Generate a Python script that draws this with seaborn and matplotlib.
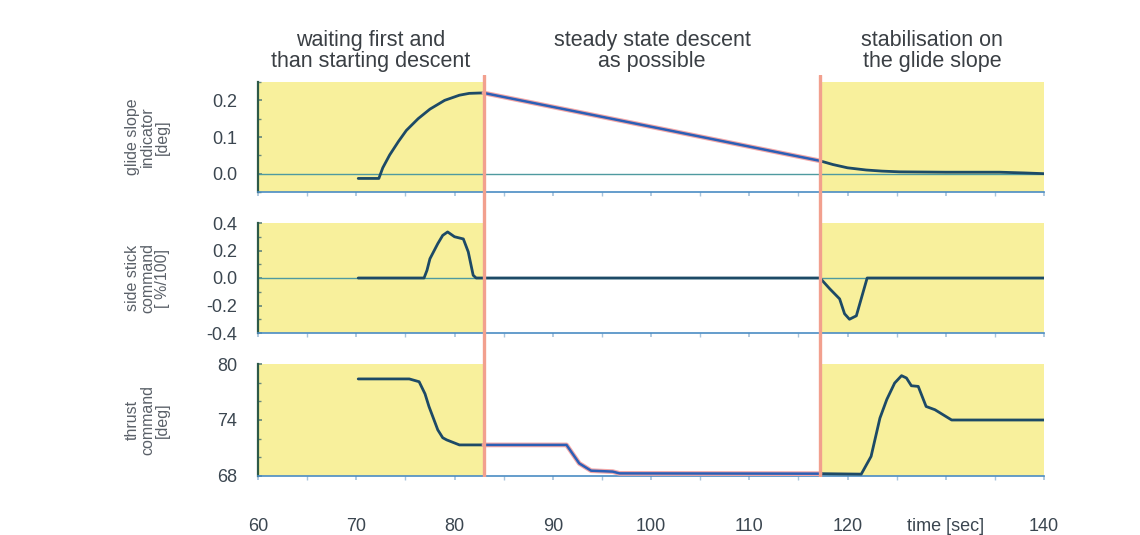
import numpy as np
import pandas as pd
import matplotlib
matplotlib.use("Agg")
import matplotlib.pyplot as plt
import seaborn as sns

# ---------------- data ----------------
t_glide = [70.2, 72.3, 72.7, 73.4, 74.3, 75.1, 76.3, 77.5, 79.0, 80.5, 81.5, 82.6, 83.0,
           117.2, 118.5, 120.0, 121.9, 123.5, 125.3, 130.0, 135.5, 138.0, 140.0]
glide = [-0.013, -0.013, 0.016, 0.051, 0.088, 0.118, 0.15, 0.176, 0.200, 0.214, 0.219, 0.22, 0.22,
         0.035, 0.025, 0.016, 0.010, 0.007, 0.005, 0.004, 0.004, 0.002, 0.0]

t_stick = [70.2, 76.9, 77.2, 77.5, 78.3, 78.8, 79.3, 80.0, 80.9, 81.4, 81.9, 82.2,
           117.2, 118.2, 119.2, 119.7, 120.2, 120.9, 121.4, 122.0, 140.0]
stick = [0, 0, 0.056, 0.14, 0.25, 0.31, 0.335, 0.30, 0.284, 0.19, 0.02, 0,
         0, -0.079, -0.152, -0.26, -0.30, -0.275, -0.15, 0, 0]

t_thrust = [70.2, 75.4, 76.4, 77.0, 77.4, 78.3, 78.8, 79.2, 80.5, 83.0, 91.4, 92.7, 93.9, 96.1, 96.8,
            117.2, 121.4, 122.4, 123.3, 124.0, 124.8, 125.5, 126.0, 126.5, 127.2, 128.0,
            128.9, 130.6, 140.0]
thrust = [78.4, 78.4, 78.1, 76.8, 75.45, 72.94, 72.1, 71.87, 71.33, 71.33, 71.33, 69.35, 68.57, 68.47, 68.28,
          68.25, 68.2, 70.1, 74.2, 76.2, 77.96, 78.75, 78.5, 77.67, 77.6, 75.45,
          75.1, 74.0, 74.0]

phase_bounds = [83.0, 117.2]
phase_titles = ["waiting first and\nthan starting descent",
                "steady state descent\nas possible",
                "stabilisation on\nthe glide slope"]
panel_labels = ["glide slope\nindicator\n[deg]", "side stick\ncommand\n[ %/100]",
                "thrust\ncommand\n[deg]"]
x_ticks = [60, 70, 80, 90, 100, 110, 120, 130, 140]
x_tick_labels = ["60", "70", "80", "90", "100", "110", "120", "time [sec]", "140"]
y_ticks = [[0.0, 0.1, 0.2], [-0.4, -0.2, 0.0, 0.2, 0.4], [68, 74, 80]]
y_tick_labels = [["0.0", "0.1", "0.2"], ["-0.4", "-0.2", "0.0", "0.2", "0.4"], ["68", "74", "80"]]
y_limits = [(-0.05, 0.25), (-0.4, 0.4), (68, 80)]
y_minor = [0.05, 0.1, 2]

# ---------------- style ----------------
sns.set_theme(style="white")
FONT = ["Liberation Sans", "DejaVu Sans"]
plt.rcParams["font.family"] = FONT

YELLOW = "#f8f09c"
RED = "#f2a08e"
DARK = "#1d4a66"
BLUE = "#2b5fb6"
PINK = "#f3a7a7"
TEXTC = "#3b4650"

fig = plt.figure(figsize=(11.4, 5.35), dpi=100)
L = 258 / 1140
W = (1044 - 258) / 1140
rects = [(L, (535 - 192) / 535, W, 110 / 535),
         (L, (535 - 333) / 535, W, 110 / 535),
         (L, (535 - 476) / 535, W, 112 / 535)]

series = [(t_glide, glide), (t_stick, stick), (t_thrust, thrust)]
axes = []
for i, (r, (tx, ty)) in enumerate(zip(rects, series)):
    ax = fig.add_axes(r)
    axes.append(ax)
    ax.set_facecolor("none")
    ax.set_xlim(60, 140)
    ax.set_ylim(*y_limits[i])
    ax.axvspan(60, phase_bounds[0], color=YELLOW, lw=0, zorder=0)
    ax.axvspan(phase_bounds[1], 140, color=YELLOW, lw=0, zorder=0)
    if i < 2:
        ax.axhline(0, color="#4f9aa0", lw=1.0, zorder=1)
    df = pd.DataFrame({"t": tx, "v": ty})
    mid = df[(df.t >= phase_bounds[0]) & (df.t <= phase_bounds[1])]
    sns.lineplot(data=df, x="t", y="v", ax=ax, color=DARK, lw=2.0,
                 estimator=None, sort=False, zorder=3)
    sns.lineplot(data=mid, x="t", y="v", ax=ax, color=PINK, lw=3.4,
                 estimator=None, sort=False, zorder=4)
    sns.lineplot(data=mid, x="t", y="v", ax=ax, color=BLUE, lw=1.8,
                 estimator=None, sort=False, zorder=5)
    ax.set_xlabel("")
    ax.set_ylabel(panel_labels[i], fontsize=11.5, color="#5a6068", linespacing=1.0)
    ax.yaxis.set_label_coords(-0.112, 0.5)
    for s in ["top", "right"]:
        ax.spines[s].set_visible(False)
    ax.spines["left"].set_color("#2d5a48")
    ax.spines["left"].set_linewidth(1.6)
    ax.spines["bottom"].set_color("#4a8cc4")
    ax.spines["bottom"].set_linewidth(1.2)
    ax.set_yticks(y_ticks[i])
    ax.set_yticklabels(y_tick_labels[i], fontsize=13, color=TEXTC)
    ax.yaxis.set_minor_locator(matplotlib.ticker.MultipleLocator(y_minor[i]))
    ax.tick_params(axis="y", which="both", direction="in", left=True, length=3,
                   color="#6a8a80", pad=15)
    ax.tick_params(axis="y", which="minor", length=2)
    ax.set_xticks(x_ticks)
    ax.xaxis.set_minor_locator(matplotlib.ticker.MultipleLocator(5))
    ax.tick_params(axis="x", which="both", direction="out", bottom=True, length=3,
                   color="#a8c4dc")
    if i < 2:
        ax.set_xticklabels([])
    else:
        ax.set_xticklabels(x_tick_labels, fontsize=13, color=TEXTC)
        ax.tick_params(axis="x", which="major", pad=27)

# phase titles
centres = [(60 + phase_bounds[0]) / 2, (phase_bounds[0] + phase_bounds[1]) / 2,
           (phase_bounds[1] + 140) / 2]
for c, txt in zip(centres, phase_titles):
    axes[0].text(c, 1.28, txt, transform=axes[0].get_xaxis_transform(),
                 ha="center", va="center", fontsize=15.5, color="#3a3f44",
                 linespacing=1.0)

# red phase boundary lines over all panels
top = (535 - 75) / 535
bot = (535 - 477) / 535
ov = fig.add_axes((L, bot, W, top - bot))
ov.set_xlim(60, 140)
ov.set_ylim(0, 1)
ov.axis("off")
ov.patch.set_alpha(0)
for b in phase_bounds:
    ov.axvline(b, color=RED, lw=2.4, zorder=10)

fig.savefig("out.png", dpi=100)
